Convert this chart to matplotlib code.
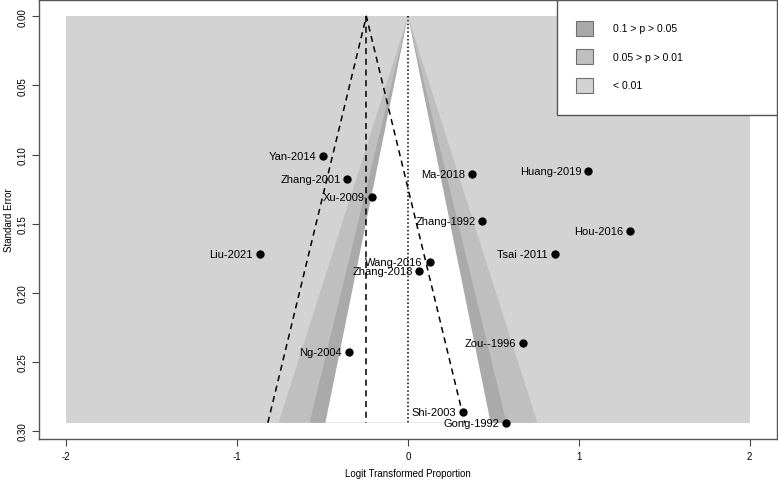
import numpy as np
import matplotlib
matplotlib.use("Agg")
import matplotlib.pyplot as plt
from matplotlib.patches import Rectangle, Polygon

plt.rcParams['font.family'] = ['Liberation Sans', 'DejaVu Sans']

studies = ["Yan-2014", "Zhang-2001", "Xu-2009", "Ma-2018", "Huang-2019", "Zhang-1992",
           "Hou-2016", "Liu-2021", "Tsai -2011", "Wang-2016", "Zhang-2018", "Ng-2004",
           "Zou--1996", "Shi-2003", "Gong-1992"]
effect = [-0.498, -0.355, -0.211, 0.377, 1.055, 0.436,
          1.299, -0.869, 0.858, 0.127, 0.067, -0.346,
          0.674, 0.322, 0.576]
se = [0.101, 0.1176, 0.1306, 0.1142, 0.1116, 0.148,
      0.155, 0.172, 0.172, 0.178, 0.184, 0.2426,
      0.236, 0.286, 0.294]
pooled = -0.244
refline = 0.0
contour_z = [1.645, 1.96, 2.576]
contour_colors = ["#ffffff", "#aaaaaa", "#bfbfbf"]
back_color = "#d3d3d3"
legend_labels = ["0.1 > p > 0.05", "0.05 > p > 0.01", "< 0.01"]
legend_colors = ["#aaaaaa", "#bfbfbf", "#d3d3d3"]
xticks = [-2, -1, 0, 1, 2]
yticks = [0.00, 0.05, 0.10, 0.15, 0.20, 0.25, 0.30]

W, H = 778, 481
fig = plt.figure(figsize=(W / 100, H / 100), dpi=100)
ax = fig.add_axes([39 / W, (H - 440) / H, (777 - 39) / W, (440 - 1) / H])

semax = max(se)
xlo, xhi = -2.0, 2.0
ax.set_xlim(-2.16, 2.16)
ax.set_ylim(semax * 1.04, -semax * 0.04)

# background
ax.add_patch(Rectangle((xlo, 0), xhi - xlo, semax, facecolor=back_color, edgecolor='none', zorder=0))
# contours from outer to inner
for z, c in zip(contour_z[::-1], contour_colors[::-1]):
    poly = Polygon([(refline, 0), (refline - z * semax, semax), (refline + z * semax, semax)],
                   closed=True, facecolor=c, edgecolor='none', zorder=1)
    ax.add_patch(poly)

# pooled funnel lines
ax.plot([pooled, pooled], [0, semax], color='black', ls=(0, (4, 3)), lw=1.1, zorder=2)
ax.plot([pooled - 1.96 * semax, pooled, pooled + 1.96 * semax], [semax, 0, semax],
        color='black', ls=(0, (4, 3)), lw=1.1, zorder=2)
# reference line
ax.plot([refline, refline], [0, semax], color='black', ls=(0, (1, 1.5)), lw=1.1, zorder=2)

ax.scatter(effect, se, s=36, color='black', zorder=4, linewidths=0)
for name, x, y in zip(studies, effect, se):
    ax.annotate(name, (x, y), xytext=(-5, 0), textcoords='offset points',
                ha='right', va='center', fontsize=8, zorder=5)

ax.set_xticks(xticks)
ax.set_xticklabels([str(t) for t in xticks], fontsize=7)
ax.set_yticks(yticks)
ax.set_yticklabels([f"{t:.2f}" for t in yticks], fontsize=7, rotation=90, va='center')
ax.tick_params(direction='out', length=5, width=0.8, color='#444444', pad=3)
ax.tick_params(axis='x', pad=4)
for s in ax.spines.values():
    s.set_color('#555555')
    s.set_linewidth(1.0)
ax.set_xlabel("Logit Transformed Proportion", fontsize=7, labelpad=5)
ax.set_ylabel("Standard Error", fontsize=7, labelpad=3)

# legend
T = ax.transAxes
def fx(px):
    return (px - 39) / 738
def fy(py):
    return (440 - py) / 439
ax.add_patch(Rectangle((fx(556.7), fy(115.7)), fx(777) - fx(556.7), fy(1) - fy(115.7),
                       transform=T, facecolor='white', edgecolor='#555555', lw=1.0, zorder=6))
for i, (lab, col) in enumerate(zip(legend_labels, legend_colors)):
    cy = 29 + i * 28.7
    ax.add_patch(Rectangle((fx(576), fy(cy + 7.5)), fx(593) - fx(576), fy(cy - 7.5) - fy(cy + 7.5),
                           transform=T, facecolor=col, edgecolor='#707070', lw=0.8, zorder=7))
    ax.text(fx(613), fy(cy), lab, transform=T, ha='left', va='center', fontsize=7.5, zorder=7)

fig.savefig("out.png", dpi=100)
